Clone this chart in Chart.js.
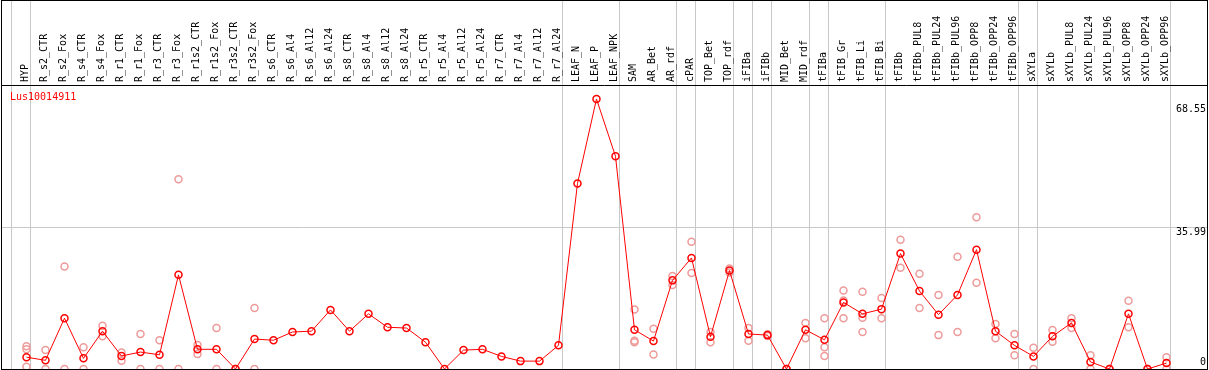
<!DOCTYPE html>
<html>
<head>
<meta charset="utf-8">
<script src="https://cdn.jsdelivr.net/npm/chart.js@4"></script>
<style>
  html, body { margin: 0; padding: 0; background: #fff; }
  #contenedor { width: 1209px; height: 370px; }
</style>
</head>
<body>
<div id="contenedor"><canvas id="grafico" width="1209" height="370"></canvas></div>
<script>
const gen = 'Lus10014911';

const categorias = [
  'HYP', 'R_s2_CTR', 'R_s2_Fox', 'R_s4_CTR', 'R_s4_Fox', 'R_r1_CTR', 'R_r1_Fox', 'R_r3_CTR', 'R_r3_Fox',
  'R_r1s2_CTR', 'R_r1s2_Fox', 'R_r3s2_CTR', 'R_r3s2_Fox',
  'R_s6_CTR', 'R_s6_Al4', 'R_s6_Al12', 'R_s6_Al24', 'R_s8_CTR', 'R_s8_Al4', 'R_s8_Al12', 'R_s8_Al24',
  'R_r5_CTR', 'R_r5_Al4', 'R_r5_Al12', 'R_r5_Al24', 'R_r7_CTR', 'R_r7_Al4', 'R_r7_Al12', 'R_r7_Al24',
  'LEAF_N', 'LEAF_P', 'LEAF_NPK', 'SAM', 'AR_Bet', 'AR_rdf', 'cPAR', 'TOP_Bet', 'TOP_rdf',
  'iFIBa', 'iFIBb', 'MID_Bet', 'MID_rdf', 'tFIBa', 'tFIB_Gr', 'tFIB_Li', 'tFIB_Bi',
  'tFIBb', 'tFIBb_PUL8', 'tFIBb_PUL24', 'tFIBb_PUL96', 'tFIBb_OPP8', 'tFIBb_OPP24', 'tFIBb_OPP96',
  'sXYLa', 'sXYLb', 'sXYLb_PUL8', 'sXYLb_PUL24', 'sXYLb_PUL96', 'sXYLb_OPP8', 'sXYLb_OPP24', 'sXYLb_OPP96'
];

// media por condicion (linea roja)
const media = [
  3.0, 2.2, 12.9, 2.7, 9.6, 3.3, 4.3, 3.6, 23.9, 5.0,
  5.0, 0, 7.6, 7.3, 9.4, 9.6, 15.0, 9.6, 14.0, 10.6,
  10.4, 6.8, 0, 4.8, 5.0, 3.2, 2.0, 2.0, 6.0, 47.1,
  68.55, 54.0, 9.95, 7.1, 22.5, 28.2, 8.2, 25.0, 8.9, 8.6,
  0, 9.95, 7.4, 16.9, 14.0, 15.2, 29.3, 19.8, 13.8, 18.8,
  30.3, 9.6, 6.0, 3.2, 8.3, 11.7, 1.8, 0, 14.0, 0, 1.5
];

// replicas (puntos rosados)
const rep1 = [
  5.8, 4.8, 26.0, 5.5, 11.0, 4.2, 8.9, 7.3, 48.2, 6.1, 10.4, 0, 15.5,
  null, null, null, null, null, null, null, null, null, null, null, null, null, null, null, null,
  null, null, null,
  15.1, 10.2, 23.6, 32.3, 9.4, 25.5, 10.4, 8.8, 0, 11.7, 12.9, 19.9, 19.6, 18.0,
  32.8, 24.2, 18.8, 28.5, 38.5, 11.4, 8.9, 5.4, 9.9, 12.9, 3.5, 0, 17.3, 0, 3.0
];
const rep2 = [
  5.0, 0, 0, 0, 8.3, 2.1, 0, 0, 0, 3.8, 0, 0, 0,
  null, null, null, null, null, null, null, null, null, null, null, null, null, null, null, null,
  null, null, null,
  7.2, 3.7, 21.3, 24.4, 6.8, 24.5, 7.2, 8.4, 0, 7.8, 5.5, 17.4, 13.0, 12.9,
  25.7, 15.5, 8.6, 9.4, 21.9, 7.8, 3.5, 0, 6.9, 10.4, 0, 0, 10.6, 0, 0
];
const rep3 = [
  0.6, null, null, null, null, null, null, null, null, null, null, null, null,
  null, null, null, null, null, null, null, null, null, null, null, null, null, null, null, null,
  null, null, null,
  6.8, null, null, null, null, null, null, null, null, null, 3.3, 12.9, 9.4, null,
  null, null, null, null, null, null, null, null, null, null, null, null, null, null, null
];

const marcasY = [0, 35.99, 68.55];
// ultimo indice de cada grupo (lineas verticales grises)
const finGrupo = [-1, 0, 28, 31, 34, 35, 37, 38, 39, 41, 42, 45, 52, 53, 60];

const GRIS = '#c8c8c8';
const ROJO = '#ff0000';
const ROSA = '#ee9a9a';
const FUENTE = '"DejaVu Sans Mono", monospace';

function aPuntos(serie) {
  const pts = [];
  serie.forEach((v, i) => { if (v !== null) pts.push({ x: i, y: v }); });
  return pts;
}

function esCategoria(v) {
  return Math.abs(v - Math.round(v)) < 1e-6;
}

const pluginMarco = {
  id: 'pluginMarco',
  afterDraw(chart) {
    const { ctx, scales: { y } } = chart;
    ctx.save();
    ctx.strokeStyle = '#000';
    ctx.lineWidth = 1;
    ctx.strokeRect(1.5, 0.5, 1206, 369);
    ctx.beginPath();
    ctx.moveTo(1, 85.5);
    ctx.lineTo(1208, 85.5);
    ctx.stroke();

    ctx.font = '10px ' + FUENTE;
    ctx.fillStyle = ROJO;
    ctx.textAlign = 'left';
    ctx.textBaseline = 'middle';
    ctx.fillText(gen, 10, 97);

    // etiquetas del eje Y dentro del marco, a la derecha
    const desfase = [-7, 5, 10];
    ctx.fillStyle = '#000';
    ctx.textAlign = 'right';
    marcasY.forEach((v, k) => {
      ctx.fillText(String(v), 1206, y.getPixelForValue(v) + desfase[k]);
    });
    ctx.restore();
  }
};

new Chart(document.getElementById('grafico'), {
  type: 'line',
  data: {
    datasets: [
      {
        data: aPuntos(media),
        borderColor: ROJO,
        borderWidth: 1,
        pointStyle: 'circle',
        pointRadius: 3.5,
        pointBorderWidth: 1.5,
        pointBorderColor: ROJO,
        pointBackgroundColor: 'rgba(0,0,0,0)',
        order: 0
      },
      {
        data: aPuntos(rep1).concat(aPuntos(rep2), aPuntos(rep3)),
        showLine: false,
        pointRadius: 3.5,
        pointBorderWidth: 1.5,
        pointBorderColor: ROSA,
        pointBackgroundColor: 'rgba(0,0,0,0)',
        order: 1
      }
    ]
  },
  plugins: [pluginMarco],
  options: {
    responsive: false,
    animation: false,
    events: [],
    layout: { autoPadding: false, padding: { left: 1, right: 2, top: 0, bottom: 1 } },
    plugins: { legend: { display: false }, tooltip: { enabled: false } },
    scales: {
      x: {
        type: 'linear',
        position: 'top',
        min: -1.342,
        max: 62.132,
        afterBuildTicks(scale) {
          const t = categorias.map((_, i) => ({ value: i }));
          finGrupo.forEach(e => t.push({ value: e + 0.21 }));
          scale.ticks = t;
        },
        afterFit(scale) {
          scale.height = 85;
          scale.paddingLeft = 0;
          scale.paddingRight = 0;
        },
        border: { display: false },
        grid: {
          drawTicks: true,
          tickLength: 85,
          color: c => esCategoria(c.tick.value) ? 'rgba(0,0,0,0)' : GRIS,
          tickColor: c => esCategoria(c.tick.value) ? 'rgba(0,0,0,0)' : GRIS
        },
        ticks: {
          autoSkip: false,
          minRotation: 90,
          maxRotation: 90,
          padding: -82,
          labelOffset: 11,
          color: '#000',
          font: { family: FUENTE, size: 10 },
          callback: v => esCategoria(v) ? categorias[Math.round(v)] : ''
        }
      },
      y: {
        type: 'linear',
        position: 'right',
        min: 0,
        max: 72.1,
        afterBuildTicks(scale) { scale.ticks = marcasY.map(v => ({ value: v })); },
        afterFit(scale) { scale.width = 0; },
        border: { display: false },
        grid: {
          drawTicks: false,
          color: c => c.tick.value === 35.99 ? GRIS : 'rgba(0,0,0,0)'
        },
        ticks: { display: false }
      }
    }
  }
});
</script>
</body>
</html>
